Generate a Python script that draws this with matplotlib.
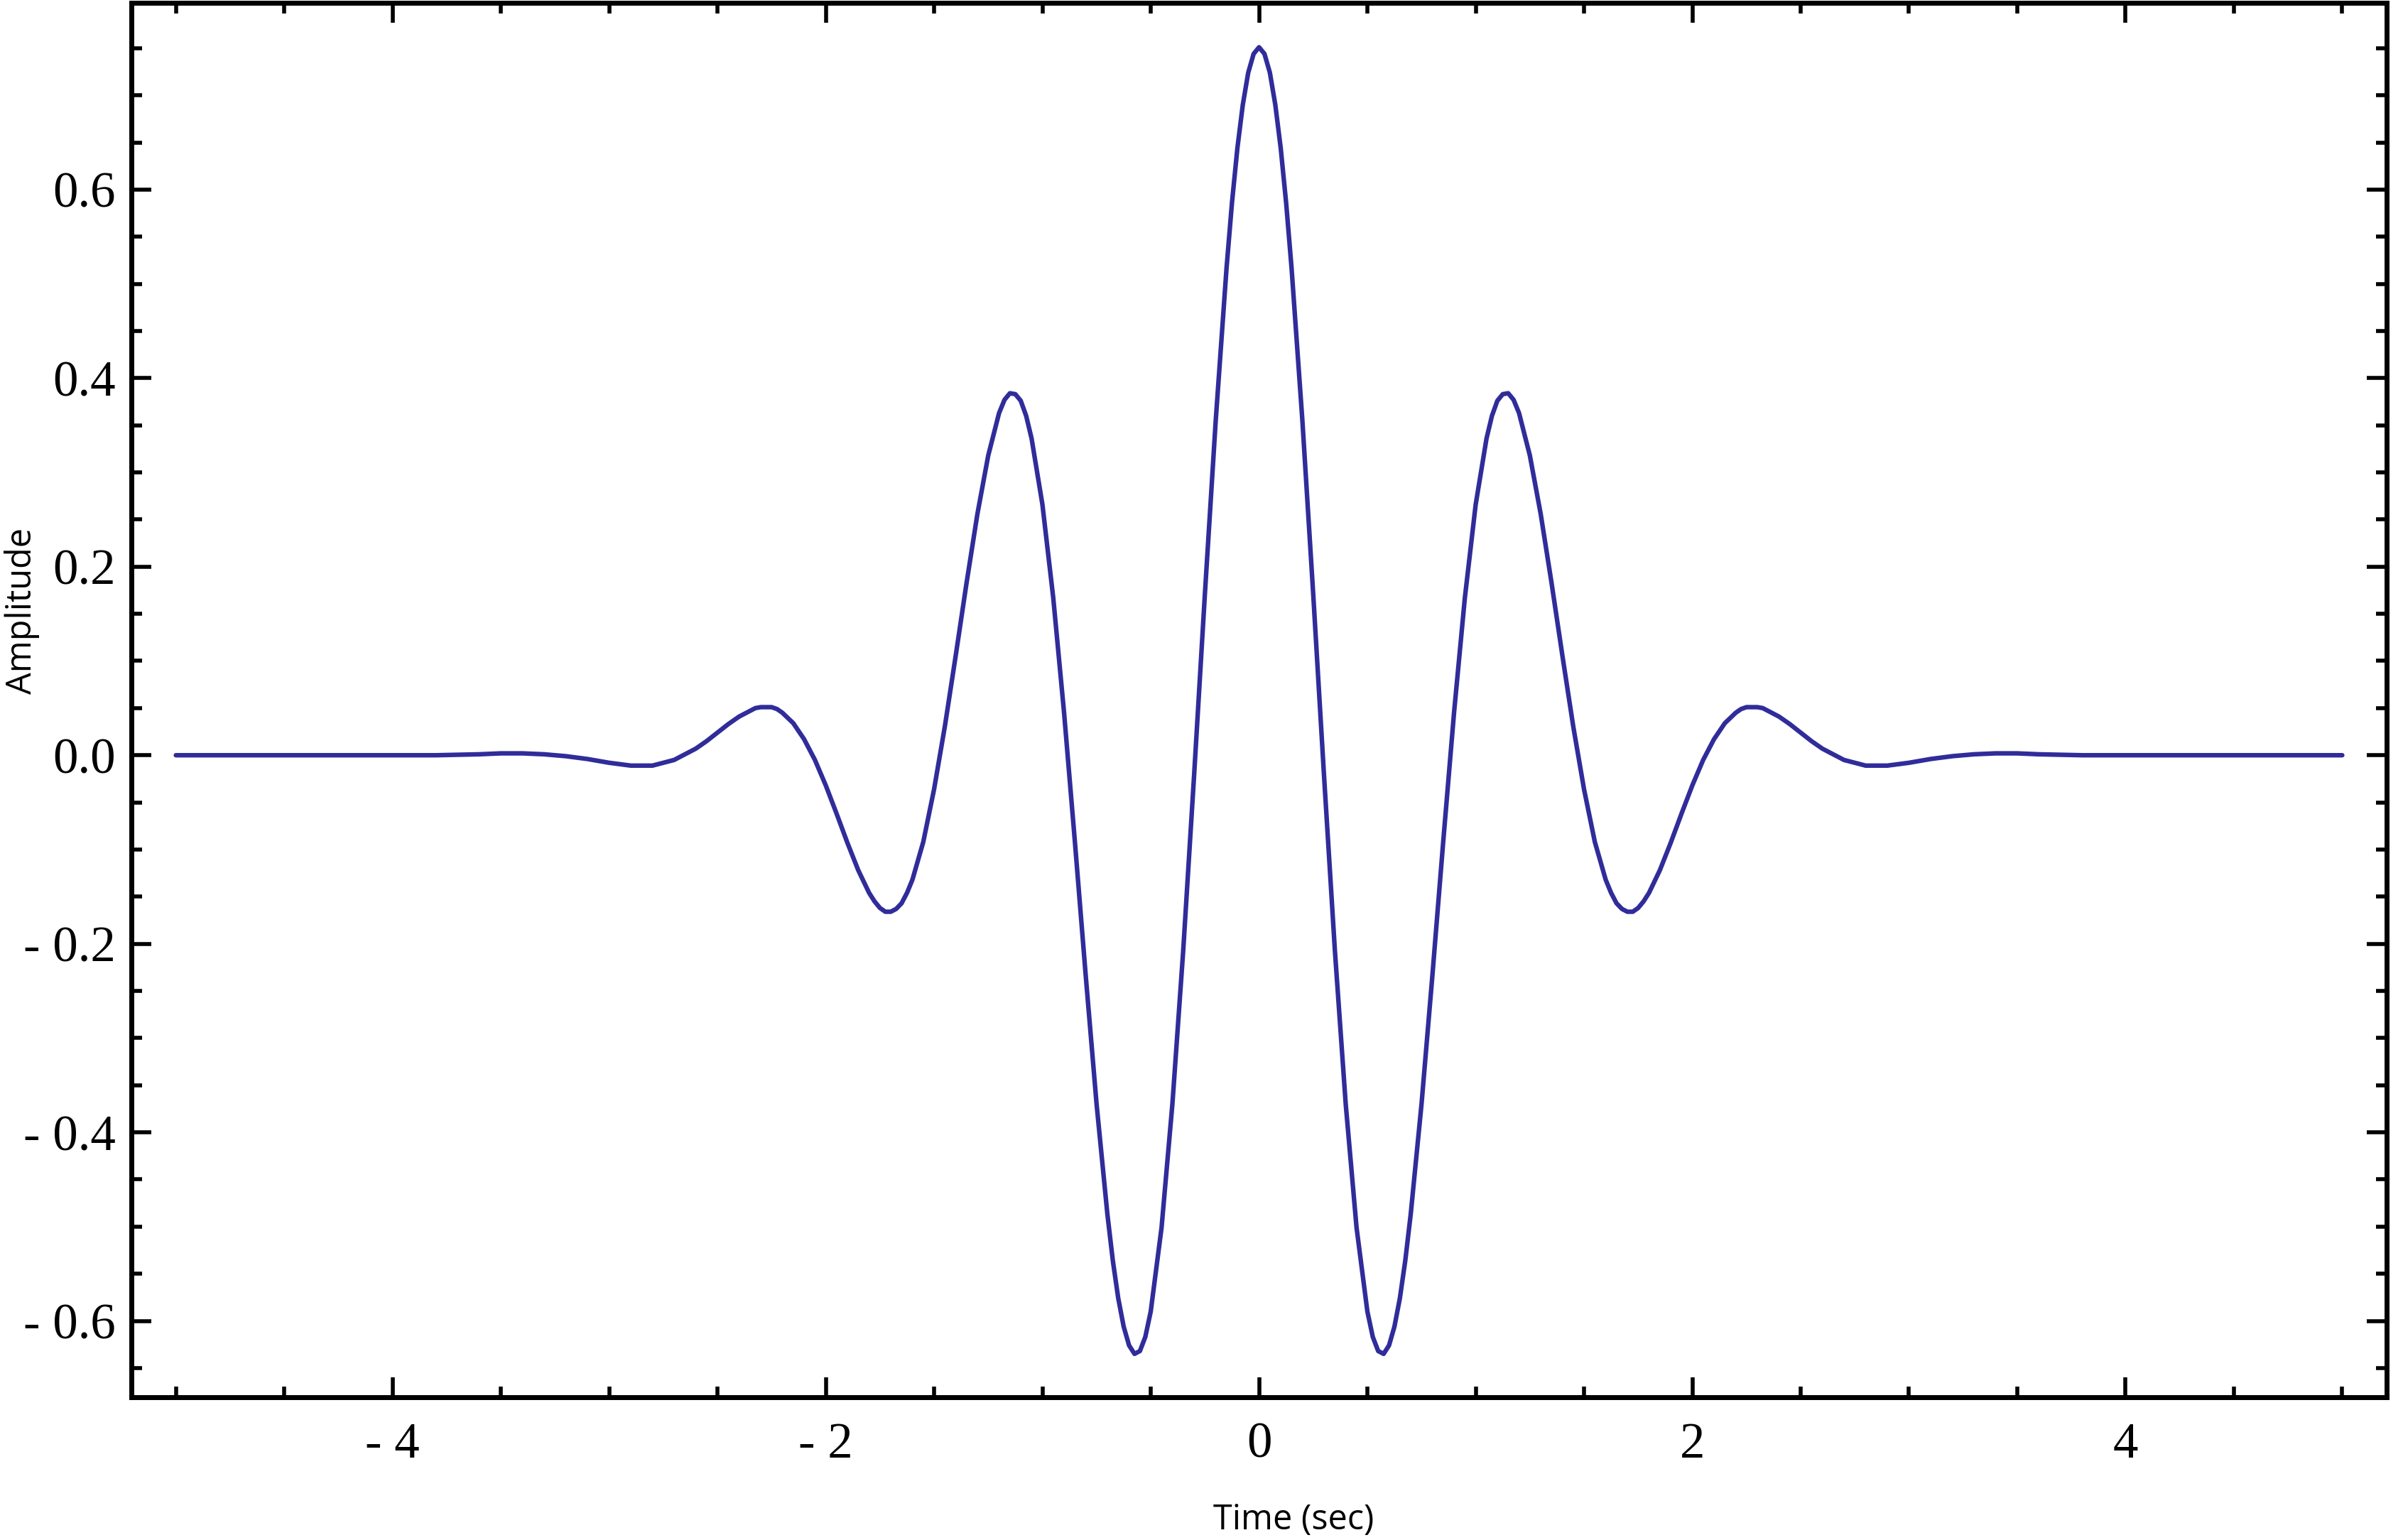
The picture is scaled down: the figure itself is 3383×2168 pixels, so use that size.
import matplotlib
matplotlib.use("Agg")
import matplotlib.pyplot as plt

# Values (time in seconds, amplitude)
time_s = [
    -5.00, -4.50, -4.00, -3.80, -3.60, -3.50, -3.40, -3.30, -3.20, -3.10,
    -3.00, -2.90, -2.80, -2.70, -2.60, -2.55, -2.50, -2.45, -2.40, -2.35,
    -2.325, -2.30, -2.275, -2.25, -2.225, -2.20, -2.15, -2.10, -2.05, -2.00,
    -1.95, -1.90, -1.85, -1.80, -1.775, -1.75, -1.725, -1.70, -1.675, -1.65,
    -1.625, -1.60, -1.55, -1.50, -1.45, -1.40, -1.35, -1.30, -1.25, -1.20,
    -1.175, -1.15, -1.125, -1.10, -1.075, -1.05, -1.00, -0.95, -0.90, -0.85,
    -0.80, -0.75, -0.70, -0.675, -0.65, -0.625, -0.60, -0.575, -0.55, -0.525,
    -0.50, -0.45, -0.40, -0.35, -0.30, -0.25, -0.20, -0.15, -0.125, -0.10,
    -0.075, -0.05, -0.025,
    0.00,
    0.025, 0.05, 0.075, 0.10, 0.125, 0.15, 0.20, 0.25, 0.30, 0.35,
    0.40, 0.45, 0.50, 0.525, 0.55, 0.575, 0.60, 0.625, 0.65, 0.675,
    0.70, 0.75, 0.80, 0.85, 0.90, 0.95, 1.00, 1.05, 1.075, 1.10,
    1.125, 1.15, 1.175, 1.20, 1.25, 1.30, 1.35, 1.40, 1.45, 1.50,
    1.55, 1.60, 1.625, 1.65, 1.675, 1.70, 1.725, 1.75, 1.775, 1.80,
    1.85, 1.90, 1.95, 2.00, 2.05, 2.10, 2.15, 2.20, 2.225, 2.25,
    2.275, 2.30, 2.325, 2.35, 2.40, 2.45, 2.50, 2.55, 2.60, 2.70,
    2.80, 2.90, 3.00, 3.10, 3.20, 3.30, 3.40, 3.50, 3.60, 3.80,
    4.00, 4.50, 5.00,
]
amplitude = [
    0.000, 0.000, 0.000, 0.000, 0.001, 0.002, 0.002, 0.001, -0.001, -0.004,
    -0.008, -0.011, -0.011, -0.005, 0.007, 0.015, 0.024, 0.033, 0.041, 0.047,
    0.050, 0.051, 0.051, 0.051, 0.049, 0.045, 0.034, 0.017, -0.005, -0.032,
    -0.062, -0.093, -0.122, -0.146, -0.155, -0.162, -0.166, -0.166, -0.163, -0.157,
    -0.146, -0.132, -0.092, -0.036, 0.031, 0.106, 0.183, 0.256, 0.318, 0.363,
    0.377, 0.384, 0.383, 0.376, 0.360, 0.336, 0.266, 0.167, 0.045, -0.092,
    -0.234, -0.370, -0.487, -0.536, -0.576, -0.606, -0.626, -0.635, -0.632, -0.617,
    -0.590, -0.501, -0.370, -0.207, -0.022, 0.171, 0.355, 0.517, 0.586, 0.644,
    0.690, 0.724, 0.744,
    0.751,
    0.744, 0.724, 0.690, 0.644, 0.586, 0.517, 0.355, 0.171, -0.022, -0.207,
    -0.370, -0.501, -0.590, -0.617, -0.632, -0.635, -0.626, -0.606, -0.576, -0.536,
    -0.487, -0.370, -0.234, -0.092, 0.045, 0.167, 0.266, 0.336, 0.360, 0.376,
    0.383, 0.384, 0.377, 0.363, 0.318, 0.256, 0.183, 0.106, 0.031, -0.036,
    -0.092, -0.132, -0.146, -0.157, -0.163, -0.166, -0.166, -0.162, -0.155, -0.146,
    -0.122, -0.093, -0.062, -0.032, -0.005, 0.017, 0.034, 0.045, 0.049, 0.051,
    0.051, 0.051, 0.050, 0.047, 0.041, 0.033, 0.024, 0.015, 0.007, -0.005,
    -0.011, -0.011, -0.008, -0.004, -0.001, 0.001, 0.002, 0.002, 0.001, 0.000,
    0.000, 0.000, 0.000,
]

# Tick positions and labels as printed on the chart
x_major = [-4, -2, 0, 2, 4]
x_labels = ["- 4", "- 2", "0", "2", "4"]
x_minor = [-5.0, -4.5, -3.5, -3.0, -2.5, -1.5, -1.0, -0.5,
           0.5, 1.0, 1.5, 2.5, 3.0, 3.5, 4.5, 5.0]
y_major = [-0.6, -0.4, -0.2, 0.0, 0.2, 0.4, 0.6]
y_labels = ["- 0.6", "- 0.4", "- 0.2", "0.0", "0.2", "0.4", "0.6"]
y_minor = [-0.65, -0.55, -0.5, -0.45, -0.35, -0.3, -0.25, -0.15, -0.1, -0.05,
           0.05, 0.1, 0.15, 0.25, 0.3, 0.35, 0.45, 0.5, 0.55, 0.65, 0.7, 0.75]

LINE_COLOR = "#302c9a"

fig = plt.figure(figsize=(33.83, 21.68), dpi=100)
ax = fig.add_axes([0.0547, 0.0927, 0.9385, 0.9054])

ax.plot(time_s, amplitude, color=LINE_COLOR, linewidth=4.6,
        solid_joinstyle="round", solid_capstyle="round")

ax.set_xlim(-5.205, 5.205)
ax.set_ylim(-0.681, 0.798)

# Ticks on all four sides, pointing inward
ax.set_xticks(x_major)
ax.set_xticklabels(x_labels)
ax.set_xticks(x_minor, minor=True)
ax.set_yticks(y_major)
ax.set_yticklabels(y_labels)
ax.set_yticks(y_minor, minor=True)

ax.tick_params(which="both", direction="in", top=True, right=True,
               width=4, color="black")
ax.tick_params(which="major", length=20.5)
ax.tick_params(which="minor", length=11)
ax.tick_params(axis="x", which="major", pad=25)
ax.tick_params(axis="y", which="major", pad=16)

for lab in ax.get_xticklabels() + ax.get_yticklabels():
    lab.set_fontfamily("Liberation Serif")
    lab.set_fontsize(51)

for s in ax.spines.values():
    s.set_linewidth(5)
    s.set_color("black")

# Axis titles sit off-centre in the original, so place them by hand
fig.text(31 / 3383, 1 - 860 / 2168, "Amplitude", rotation=90,
         ha="center", va="center", fontsize=35, family="Open Sans")
fig.text(1821 / 3383, 1 - 2140 / 2168, "Time (sec)",
         ha="center", va="center", fontsize=35, family="Open Sans")

fig.savefig("out.png", dpi=100, facecolor="white")
